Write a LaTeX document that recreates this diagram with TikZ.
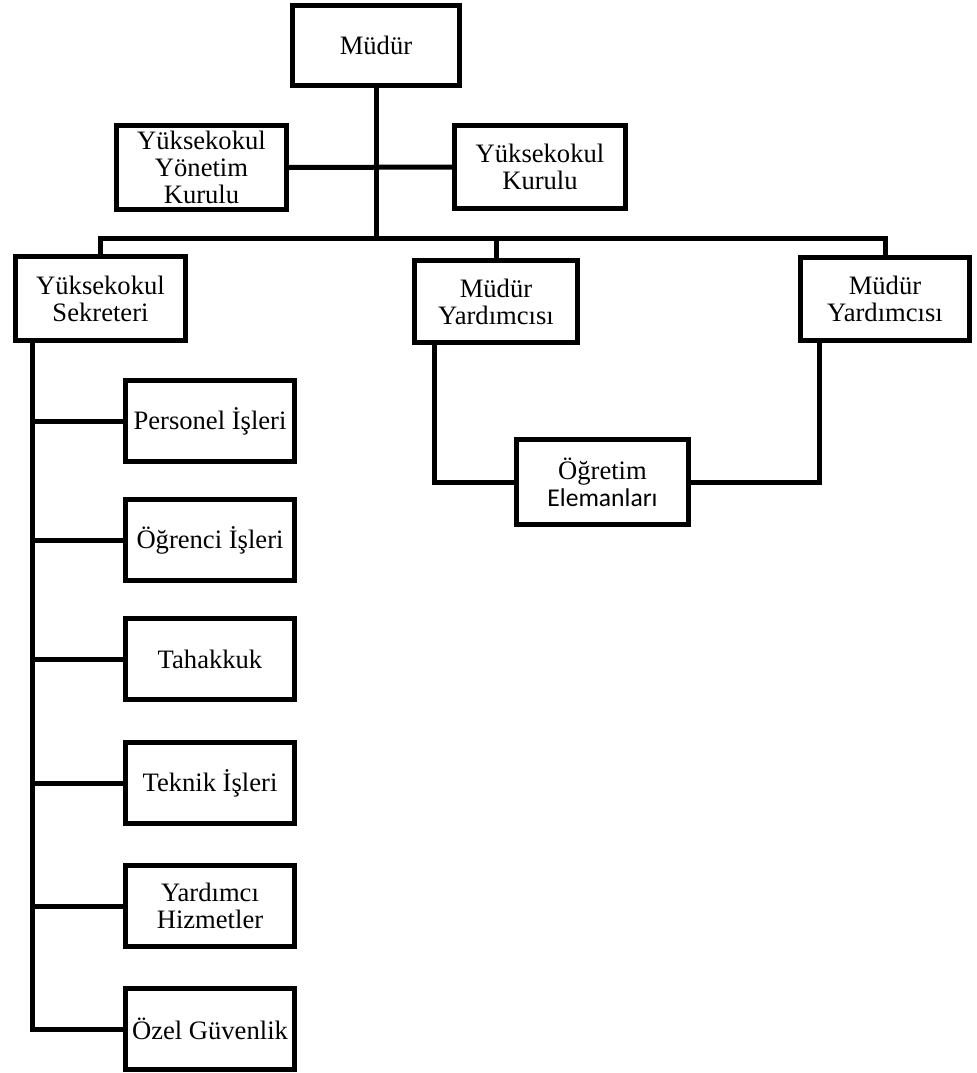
\documentclass[tikz,border=0pt]{standalone}
\usepackage{fontspec}
\setmainfont{Liberation Serif}
\newfontfamily\calibri{Carlito}
\usetikzlibrary{positioning}

\begin{document}
\begin{tikzpicture}[
  x = 0.5pt,
  y = -0.5pt,
  box/.style = {
    draw,
    rectangle,
    line width = 2.5pt,
    fill = white,
    align = center,
    inner sep = 0pt,
    outer sep = 0pt,
    minimum width = 84.5pt,
    minimum height = 40.5pt,
    font = \fontsize{13.3}{13.4}\selectfont,
  },
  link/.style = {draw, line width = 2.5pt},
]
  \useasboundingbox (0,0) rectangle (977,1073);

  \node[box,minimum width=83.5pt,minimum height=40pt] (mudur) at (376,45.5) {Müdür};

  \node[box,minimum width=85pt,minimum height=42pt] (yonetim) at (201.5,167.5) {Yüksekokul\\Yönetim\\Kurulu};
  \node[box,minimum width=85.5pt,minimum height=41.5pt] (kurul) at (540,167) {Yüksekokul\\Kurulu};
  \path[link] (yonetim.east) -- (kurul.west);

  \coordinate (bus) at (376,238);
  \node[box,minimum width=85pt,minimum height=42pt] (sekreter) at (100.5,298.5) {Yüksekokul\\Sekreteri};
  \node[box,minimum width=81.5pt,minimum height=41pt] (yard1) at (496,301.5) {Müdür\\Yardımcısı};
  \node[box,minimum width=84.5pt,minimum height=41.5pt] (yard2) at (885,299) {Müdür\\Yardımcısı};
  \path[link] (mudur.south) -- (bus);
  \path[link] (sekreter.north) -- (sekreter.north |- bus) -- (yard2.north |- bus) -- (yard2.north);
  \path[link] (yard1.north) -- (yard1.north |- bus);

  \node[box,minimum width=86pt,minimum height=42.5pt] (ogretim) at (602.5,482)
    {Öğretim\\{\calibri\fontsize{12.8}{14}\selectfont Elemanları}};
  \path[link] ([xshift=10pt]yard1.south west) |- (ogretim.west);
  \path[link] ([xshift=9.5pt]yard2.south west) |- (ogretim.east);

  % birimler
  \coordinate (spine) at (32,298.5);
  \node[box] (personel) at (210,421) {Personel İşleri};
  \node[box] (ogrenci) [below=19pt of personel] {Öğrenci İşleri};
  \node[box] (tahakkuk) [below=19pt of ogrenci] {Tahakkuk};
  \node[box] (teknik) [below=21.5pt of tahakkuk] {Teknik İşleri};
  \node[box] (yardimci) [below=21pt of teknik] {Yardımcı\\Hizmetler};
  \node[box] (guvenlik) [below=21pt of yardimci] {Özel Güvenlik};
  \path[link] (spine |- sekreter.south) |- (guvenlik.west);
  \foreach \b in {personel,ogrenci,tahakkuk,teknik,yardimci}
    \path[link] (spine |- \b.west) -- (\b.west);
\end{tikzpicture}
\end{document}
